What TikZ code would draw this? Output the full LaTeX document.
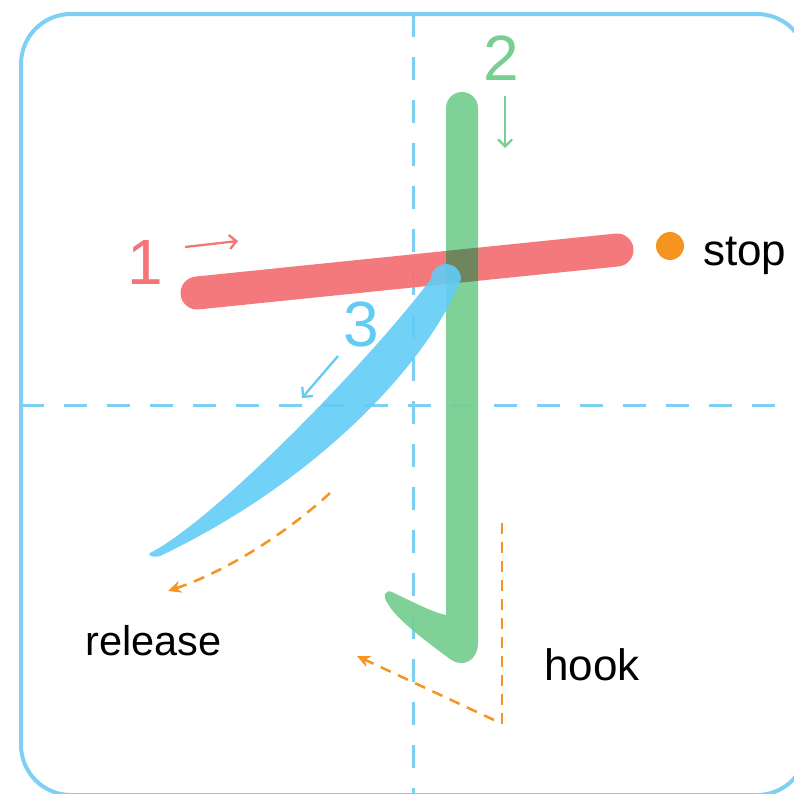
\documentclass[tikz,border=0pt]{standalone}
\usepackage{fontspec}
\setmainfont{Liberation Sans}
\usetikzlibrary{arrows.meta}
\definecolor{gridblue}{RGB}{125,208,243}
\definecolor{strokered}{RGB}{244,116,120}
\definecolor{strokegreen}{RGB}{120,207,145}
\definecolor{strokeblue}{RGB}{98,204,245}
\definecolor{hintorange}{RGB}{245,148,32}
\definecolor{redgreen}{RGB}{110,130,92}

\begin{document}
\begin{tikzpicture}[x=1pt, y=-1pt,
	guide/.style={draw=gridblue, line width=3pt, dash pattern=on 23pt off 20pt},
	hintline/.style={draw=hintorange, line width=2.5pt, dash pattern=on 11pt off 8pt},
	hint/.style={hintline, -{Stealth[length=13pt, width=12pt, inset=4pt]}},
	order/.style={line width=2.3pt, -{Straight Barb[length=7pt, width=14pt]}},
	digit/.style={font=\fontsize{64}{64}\selectfont, inner sep=0pt},
	word/.style={font=\fontsize{44}{44}\selectfont, inner sep=0pt, anchor=base west}]
		\useasboundingbox (0, 0) rectangle (794, 793);
		\clip (0, 0) rectangle (794, 793);
		% frame and guide lines
		\draw[gridblue, line width=4pt, rounded corners=50pt] (21, 14) rectangle (807, 795);
		\draw[guide] (413, 14) -- (413, 795);
		\draw[guide] (21, 405) -- (807, 405);
		% stroke 1
		\draw[strokered, line width=33pt, line cap=round, opacity=.96] (197, 293) -- (617, 250);
		% stroke 2
		\fill[strokegreen, opacity=.95] (446, 108) arc[start angle=180, end angle=360, radius=16]
			-- (478, 642) .. controls (478, 662) and (462, 668) .. (450, 659)
			.. controls (420, 637) and (396, 618) .. (388, 604)
			.. controls (382, 596) and (385, 589) .. (392, 592)
			.. controls (415, 603) and (432, 612) .. (446, 615) -- cycle;
		\begin{scope}
			\clip (446, 0) rectangle (478, 800);
			\draw[redgreen, line width=33pt, opacity=.95] (197, 293) -- (617, 250);
		\end{scope}
		% stroke 3
		\fill[strokeblue, opacity=.9] (150, 553) .. controls (215, 520) and (370, 360) .. (431, 279)
			arc[start angle=180, end angle=360, radius=15]
			.. controls (430, 360) and (320, 480) .. (160, 556)
			.. controls (152, 558) and (147, 555) .. cycle;
		% stroke numbers and directions
		\node[digit, text=strokered] (one) at (145, 262) {1};
		\node[digit, text=strokegreen] (two) at (501, 58) {2};
		\node[digit, text=strokeblue] (three) at (361, 324) {3};
		\coordinate (oneS) at (185, 247);
		\coordinate (oneE) at (238, 241);
		\coordinate (twoS) at (505, 96);
		\coordinate (twoE) at (505, 148);
		\coordinate (threeS) at (338, 356);
		\coordinate (threeE) at (302, 398);
		\draw[order, strokered] (oneS) -- (oneE);
		\draw[order, strokegreen] (twoS) -- (twoE);
		\draw[order, strokeblue] (threeS) -- (threeE);
		% stop
		\fill[hintorange] (670, 246) circle (14);
		\node[word] (stop) at (703, 265) {stop};
		% release
		\coordinate (relS) at (330, 493);
		\coordinate (relE) at (168, 591);
		\draw[hint] (relS) .. controls (290, 530) and (230, 570) .. (relE);
		\node[word, font=\fontsize{41.5}{42}\selectfont] (release) at (85, 655) {release};
		% hook
		\coordinate (hookT) at (502, 523);
		\coordinate (hookB) at (502, 727);
		\coordinate (hookS) at (494, 720);
		\coordinate (hookE) at (357, 656);
		\draw[hintline] (hookT) -- (hookB);
		\draw[hint] (hookS) -- (hookE);
		\node[word] (hook) at (544, 680) {hook};
	\end{tikzpicture}
\end{document}
